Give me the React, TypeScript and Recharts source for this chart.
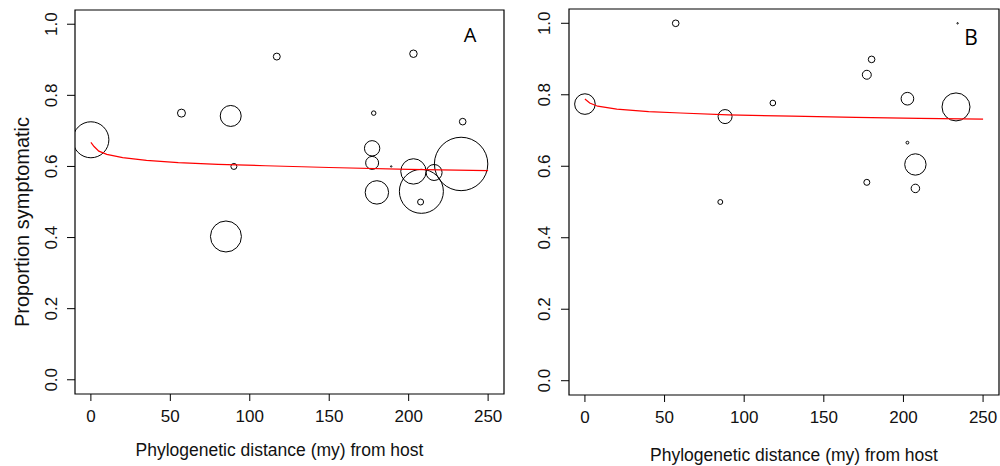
import { ScatterChart, Scatter, XAxis, YAxis, ZAxis, ReferenceArea, Label } from "recharts";

// Panel A: distance (my), proportion symptomatic, n = sample weight (bubble area)
const pointsA = [
  { x: 0, y: 0.675, n: 324 },
  { x: 57, y: 0.75, n: 16 },
  { x: 88, y: 0.742, n: 110 },
  { x: 85, y: 0.403, n: 240 },
  { x: 90, y: 0.6, n: 9 },
  { x: 117, y: 0.909, n: 12 },
  { x: 178, y: 0.75, n: 5 },
  { x: 177, y: 0.651, n: 59 },
  { x: 177, y: 0.61, n: 42 },
  { x: 180, y: 0.527, n: 137 },
  { x: 189, y: 0.6, n: 0.5 },
  { x: 203, y: 0.917, n: 14 },
  { x: 203, y: 0.586, n: 161 },
  { x: 208, y: 0.53, n: 484 },
  { x: 207.5, y: 0.5, n: 9 },
  { x: 216, y: 0.583, n: 64 },
  { x: 234, y: 0.726, n: 11 },
  { x: 233, y: 0.607, n: 713 },
];

// fitted curve A
const fitA = [
  { x: 0, y: 0.668 },
  { x: 2, y: 0.656 },
  { x: 5, y: 0.643 },
  { x: 10, y: 0.634 },
  { x: 20, y: 0.625 },
  { x: 35, y: 0.617 },
  { x: 55, y: 0.611 },
  { x: 80, y: 0.606 },
  { x: 110, y: 0.602 },
  { x: 150, y: 0.597 },
  { x: 200, y: 0.592 },
  { x: 250, y: 0.588 },
];

// Panel B
const pointsB = [
  { x: 0, y: 0.774, n: 106 },
  { x: 57, y: 1.0, n: 11 },
  { x: 85, y: 0.5, n: 6 },
  { x: 88, y: 0.739, n: 49 },
  { x: 118, y: 0.777, n: 8 },
  { x: 177, y: 0.856, n: 20 },
  { x: 180, y: 0.899, n: 11 },
  { x: 177, y: 0.555, n: 9 },
  { x: 202.5, y: 0.789, n: 40 },
  { x: 202.5, y: 0.666, n: 2 },
  { x: 207.5, y: 0.605, n: 114 },
  { x: 207.5, y: 0.538, n: 18 },
  { x: 233, y: 0.766, n: 196 },
  { x: 234, y: 1.0, n: 0.5 },
];

const fitB = [
  { x: 0, y: 0.788 },
  { x: 3, y: 0.777 },
  { x: 8, y: 0.768 },
  { x: 20, y: 0.76 },
  { x: 40, y: 0.753 },
  { x: 60, y: 0.749 },
  { x: 90, y: 0.744 },
  { x: 130, y: 0.74 },
  { x: 170, y: 0.737 },
  { x: 210, y: 0.734 },
  { x: 250, y: 0.732 },
];

const xTicks = [0, 50, 100, 150, 200, 250];
const yTicks = [0, 0.2, 0.4, 0.6, 0.8, 1.0];
const xLabel = "Phylogenetic distance (my) from host";
const yLabel = "Proportion symptomatic";

const FONT = "'Liberation Sans', Arial, Helvetica, sans-serif";

const RotatedTick = (props: any) => {
  const { x, y, payload } = props;
  return (
    <text
      x={x}
      y={y}
      transform={`rotate(-90, ${x}, ${y})`}
      textAnchor="middle"
      dy="0.36em"
      fontSize={17}
      fontFamily={FONT}
      fill="#111"
    >
      {Number(payload.value).toFixed(1)}
    </text>
  );
};

interface PanelProps {
  points: Array<{ x: number; y: number; n: number }>;
  fit: Array<{ x: number; y: number }>;
  tag: string;
  width: number;
  margin: { top: number; right: number; left: number; bottom: number };
  yAxisWidth: number;
  xAxisHeight: number;
  yTickMargin: number;
  xLabelDx: number;
  xLabelY: number;
  tagPos: { dx: number; dy: number; size: number };
  showYLabel: boolean;
}

const Panel = (p: PanelProps) => {
  const xLab = (lp: any) => {
    const vb = lp.viewBox || { x: 0, y: 0, width: 0, height: 0 };
    return (
      <text
        x={vb.x + vb.width / 2 + p.xLabelDx}
        y={vb.y + p.xLabelY}
        textAnchor="middle"
        fontSize={17.5}
        fontFamily={FONT}
        fill="#111"
      >
        {xLabel}
      </text>
    );
  };
  const yLab = (lp: any) => {
    const vb = lp.viewBox || { x: 0, y: 0, width: 0, height: 0 };
    const cx = vb.x + 22;
    const cy = vb.y + vb.height / 2 + 20;
    return (
      <text
        x={cx}
        y={cy}
        transform={`rotate(-90, ${cx}, ${cy})`}
        textAnchor="middle"
        dy="0.36em"
        fontSize={20}
        fontFamily={FONT}
        fill="#111"
      >
        {yLabel}
      </text>
    );
  };
  const tagLab = (lp: any) => {
    const vb = lp.viewBox || { x: 0, y: 0, width: 0, height: 0 };
    return (
      <text
        x={vb.x + vb.width - p.tagPos.dx}
        y={vb.y + p.tagPos.dy}
        textAnchor="middle"
        fontSize={p.tagPos.size}
        fontFamily="'Open Sans', 'Noto Sans', sans-serif"
        fill="#000"
      >
        {p.tag}
      </text>
    );
  };

  return (
    <ScatterChart width={p.width} height={466} margin={p.margin}>
      <XAxis
        type="number"
        dataKey="x"
        domain={[-10, 260]}
        ticks={xTicks}
        allowDataOverflow
        axisLine={false}
        tickLine={{ stroke: "#000" }}
        tickSize={7}
        tickMargin={9}
        height={p.xAxisHeight}
        tick={{ fontSize: 17, fontFamily: FONT, fill: "#111" }}
      >
        <Label content={xLab} />
      </XAxis>
      <YAxis
        type="number"
        dataKey="y"
        domain={[-0.04, 1.04]}
        ticks={yTicks}
        allowDataOverflow
        axisLine={false}
        tickLine={{ stroke: "#000" }}
        tickSize={8}
        tickMargin={p.yTickMargin}
        width={p.yAxisWidth}
        tick={<RotatedTick />}
      >
        {p.showYLabel && <Label content={yLab} />}
      </YAxis>
      <ZAxis type="number" dataKey="n" domain={[0, 1000]} range={[0, 1000 * Math.PI]} />
      <ReferenceArea
        x1={-10}
        x2={260}
        y1={-0.04}
        y2={1.04}
        fill="none"
        fillOpacity={0}
        stroke="#000"
        strokeWidth={1.2}
      >
        <Label content={tagLab} />
      </ReferenceArea>
      <Scatter
        data={p.points}
        fill="none"
        stroke="#000"
        strokeWidth={1}
        isAnimationActive={false}
      />
      <Scatter
        data={p.fit}
        line={{ stroke: "#ff0000", strokeWidth: 1.2 }}
        lineType="joint"
        shape={() => <g />}
        isAnimationActive={false}
      />
    </ScatterChart>
  );
};

export default function App() {
  return (
    <div style={{ position: "absolute", left: 0, top: 0, width: 1000, height: 466, background: "#fff" }}>
      <div style={{ position: "absolute", left: 0, top: 0 }}>
        <Panel
          points={pointsA}
          fit={fitA}
          tag="A"
          width={510}
          margin={{ top: 10, right: 6, left: 0, bottom: 0 }}
          yAxisWidth={75}
          xAxisHeight={72}
          yTickMargin={16}
          xLabelDx={-10}
          xLabelY={62}
          tagPos={{ dx: 34, dy: 32, size: 20 }}
          showYLabel
        />
      </div>
      <div style={{ position: "absolute", left: 510, top: 0 }}>
        <Panel
          points={pointsB}
          fit={fitB}
          tag="B"
          width={490}
          margin={{ top: 9, right: 1, left: 0, bottom: 0 }}
          yAxisWidth={59}
          xAxisHeight={71}
          yTickMargin={17}
          xLabelDx={10}
          xLabelY={66}
          tagPos={{ dx: 28, dy: 36, size: 21 }}
          showYLabel={false}
        />
      </div>
    </div>
  );
}
